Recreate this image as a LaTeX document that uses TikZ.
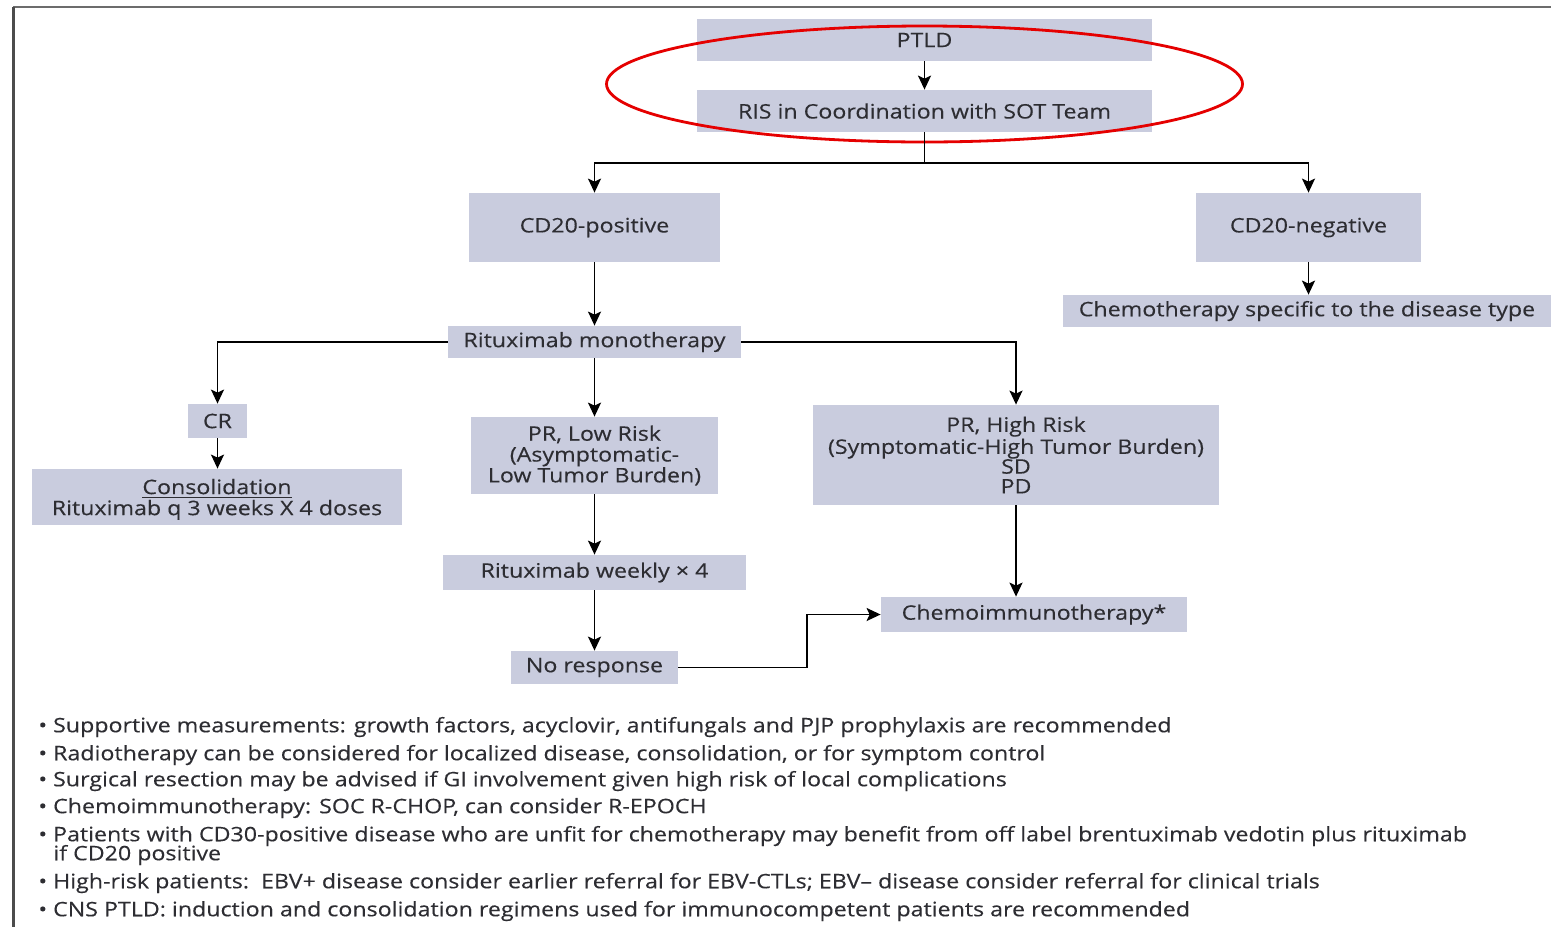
\documentclass[tikz,border=0pt]{standalone}
\usepackage{fontspec}
\setmainfont{Open Sans}[FakeStretch=1.16, FakeBold=0.25]
\usetikzlibrary{arrows.meta}
\definecolor{boxfill}{RGB}{201,204,222}
\definecolor{txt}{RGB}{45,45,50}
\tikzset{
  box/.style={fill=boxfill, draw=none, inner sep=0pt, align=center, text=txt,
    font=\fontsize{10pt}{10.4pt}\selectfont},
  arr/.style={draw=black, line width=0.9pt, -{Stealth[length=7pt,width=6.5pt,inset=1.5pt]}},
  ln/.style={draw=black, line width=0.9pt},
  bul/.style={anchor=west, inner sep=0pt, text=txt, font=\fontsize{10pt}{10.4pt}\selectfont},
}
\begin{document}
\begin{tikzpicture}[x=0.5pt,y=-0.5pt]
\useasboundingbox (0,0) rectangle (1551,927);
\fill[white] (0,0) rectangle (1551,927);
% frame
\draw[draw=gray!85!black, line width=1pt] (13,7) -- (1551,7);
\draw[draw=black!70, line width=1.5pt] (13,7) -- (13,927);

% boxes
\node[box, minimum width=227.5pt, minimum height=21pt] (ptld) at (924.5,40) {PTLD};
\node[box, minimum width=227.5pt, minimum height=21pt] (ris) at (924.5,111) {RIS in Coordination with SOT Team};
\node[box, minimum width=125.5pt, minimum height=34.5pt] (cdpos) at (594.5,227.5) {CD20-positive};
\node[box, minimum width=112.5pt, minimum height=34.5pt] (cdneg) at (1308.5,227.5) {CD20-negative};
\node[box, minimum width=244pt, minimum height=16pt] (chemospec) at (1307,311) {Chemotherapy specific to the disease type};
\node[box, minimum width=146.5pt, minimum height=16pt] (ritmono) at (594.5,342) {Rituximab monotherapy};
\node[box, minimum width=29.5pt, minimum height=17pt] (cr) at (217.5,421) {CR};
\node[box, minimum width=185pt, minimum height=28pt, text depth=-1pt] (consol) at (217,497) {\underline{Consolidation}\\[0.1pt]Rituximab q 3 weeks X 4 doses};
\node[box, minimum width=123.5pt, minimum height=38.5pt] (prlow) at (594.5,455.5) {PR, Low Risk\\(Asymptomatic-\\Low Tumor Burden)};
\node[box, minimum width=151.5pt, minimum height=17.5pt] (ritweek) at (594.5,572.5) {Rituximab weekly × 4};
\node[box, minimum width=83.5pt, minimum height=16.5pt] (noresp) at (594.5,667.5) {No response};
\node[box, minimum width=153pt, minimum height=17.5pt] (chemoimm) at (1034,614.5) {Chemoimmunotherapy*};
\node[box, minimum width=203pt, minimum height=50pt, font=\fontsize{10pt}{9.9pt}\selectfont] (prhigh) at (1016,455) {PR, High Risk\\(Symptomatic-High Tumor Burden)\\SD\\PD};

% red ellipse
\draw[draw=red!90!black, line width=1.4pt] (924.5,84) ellipse [x radius=159pt, y radius=29pt];

% connectors
\coordinate (split) at (924.5,163);
\coordinate (bend) at (807,667.5);
\draw[arr] (ptld.south) -- (ris.north);
\draw[ln] (ris.south) -- (split);
\draw[arr] (split) -| (cdpos.north);
\draw[arr] (split) -| (cdneg.north);
\draw[arr] (cdneg.south) -- (cdneg.south |- chemospec.north);
\draw[arr] (cdpos.south) -- (ritmono.north);
\draw[arr] (ritmono.west) -| (cr.north);
\draw[arr] (ritmono.east) -| (prhigh.north);
\draw[arr] (ritmono.south) -- (prlow.north);
\draw[arr] (cr.south) -- (cr.south |- consol.north);
\draw[arr] (prlow.south) -- (ritweek.north);
\draw[arr] (ritweek.south) -- (noresp.north);
\draw[ln] (noresp.east) -- (bend);
\draw[arr] (bend) |- (chemoimm.west);
\draw[arr] (prhigh.south) -- (prhigh.south |- chemoimm.north);

% bullets
\node[bul] (b1) at (38,727) {\textbullet\ Supportive measurements: growth factors, acyclovir, antifungals and PJP prophylaxis are recommended};
\node[bul] (b2) at (38,755) {\textbullet\ Radiotherapy can be considered for localized disease, consolidation, or for symptom control};
\node[bul] (b3) at (38,781) {\textbullet\ Surgical resection may be advised if GI involvement given high risk of local complications};
\node[bul] (b4) at (38,808) {\textbullet\ Chemoimmunotherapy: SOC R-CHOP, can consider R-EPOCH};
\node[bul] (b5) at (38,836) {\textbullet\ Patients with CD30-positive disease who are unfit for chemotherapy may benefit from off label brentuximab vedotin plus rituximab};
\node[bul] (b5b) at (53,855) {if CD20 positive};
\node[bul] (b6) at (38,883) {\textbullet\ High-risk patients:\ \ EBV+ disease consider earlier referral for EBV-CTLs; EBV– disease consider referral for clinical trials};
\node[bul] (b7) at (38,911) {\textbullet\ CNS PTLD: induction and consolidation regimens used for immunocompetent patients are recommended};
\end{tikzpicture}
\end{document}
